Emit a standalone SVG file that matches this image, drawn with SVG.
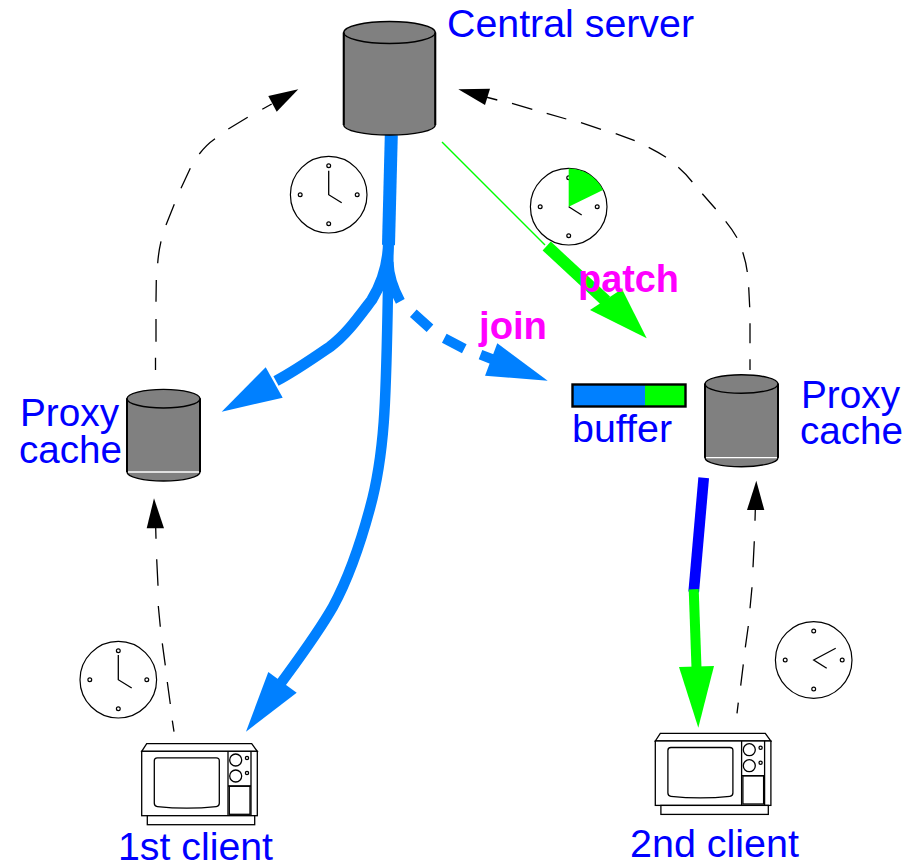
<svg xmlns="http://www.w3.org/2000/svg" width="917" height="864" viewBox="0 0 917 864">
<style>
text{font-family:"Liberation Sans",Arial,sans-serif;font-size:38px;fill:#0000ff}
.bold{font-weight:bold;fill:#ff00ff}
.body{fill:#808080;stroke:#000;stroke-width:1.4}
.wall{fill:none;stroke:#000;stroke-width:2}
.white{stroke:#fff;stroke-width:1.3;fill:none}
.thin{fill:none;stroke:#000;stroke-width:1.3}
.tv{fill:#fff;stroke:#000;stroke-width:1.3}
.dash{fill:none;stroke:#000;stroke-width:1.3}
.blue{fill:none;stroke:#0080ff}
.bluef{fill:#0080ff}
.green{fill:#00ff00}
</style>
<defs>
<g id="face">
<circle r="38.3" fill="#fff" stroke="#000" stroke-width="1.2"/>
<g fill="#fff" stroke="#000" stroke-width="1.2">
<circle cy="-29" r="1.9"/><circle cy="29" r="1.9"/><circle cx="-28.5" r="1.9"/><circle cx="28.5" r="1.9"/>
</g>
</g>
<g id="tvset">
<path class="tv" d="M0 0 L5 -7.6 H110 L115.6 0 Z"/>
<rect class="tv" x="0" y="0" width="115.6" height="64.4"/>
<rect class="tv" x="5.6" y="64.4" width="107.4" height="9"/>
<path class="tv" d="M15.6 6.5 Q12.6 6.5 12.6 9.5 V52 Q12.6 55 15.6 55.3 Q45 58.5 74.6 55.3 Q77.6 55 77.6 52 V9.5 Q77.6 6.5 74.6 6.5 Z"/>
<path class="tv" fill="none" d="M86.3 0 V64.4 M109.3 0 V64.4 M86.3 34.7 H109.3"/>
<rect class="tv" x="87.6" y="35" width="20.7" height="28" stroke-width="1.5"/>
<circle class="tv" cx="94" cy="8.7" r="6"/><circle class="tv" cx="94" cy="24.7" r="6"/>
<circle class="tv" cx="105.3" cy="6.7" r="1.6"/><circle class="tv" cx="105.3" cy="21.7" r="1.6"/>
</g>
</defs>

<g id="connectors">
<g id="dashed-client1-proxy">
<path class="dash" d="M155.7 528L156 538.7M156.7 559.3L158 585.7M158.3 606L160.3 626.7M162.3 643.3L165.3 665.3M167.3 682L170.3 704M172.3 720.7L174 731.7"/>
<polygon points="154,498.3 146.7,528.3 164,528.3"/>
</g>
<g id="dashed-proxy-central">
<path class="dash" d="M155.5 357.7V370M156 319V341.7M156 301.7L156.3 280M157.7 263.3Q158.5 252 161 241.3M166 225L174.3 204.3M181 188.3L190.3 168.3M199.3 154Q206 145 215 138.7M228.3 129L247.7 117.3M262.3 109.3L271.7 104"/>
<polygon points="298.3,89.3 268.3,96 276.7,111.7"/>
</g>
<g id="dashed-proxy2-central">
<path class="dash" d="M750 370V359.3M750 343.3V323.3M749.7 307.3L748.7 287.3M747.3 272Q746 262 742.7 252.3M737 237.7Q732 229 725.7 221.3M715.7 209L702.3 193.7M692.3 182Q686 174 678.3 167.3M666 157.3Q658 152 648.7 147.3M634.7 140.7L615.7 133.7M601 129.3L581 122.7M566.3 119L546.7 113.3M532.3 109.3L512 103.3M497.3 100L484 96.5"/>
<polygon points="458.3,89.3 490,88.7 485,105"/>
</g>
<g id="dashed-client2-proxy2">
<path class="dash" d="M755.3 510L755 520.7M754.3 541.3L753 567.3M752 587.3L750 608.3M748.3 626L745.3 647.3M743.3 664.3L740.7 685.7M738.3 702.7L737 713.3"/>
<polygon points="756.3,480.7 747,510 764.3,510"/>
</g>
<g id="stream-blue">
<path class="blue" stroke-width="13" d="M391.3 135L388.5 245"/>
<path class="blue" stroke-width="11" d="M388.5 240C388.5 262 384 280 371.7 300C358 318 346 335 330 346.7C315 357 295 371 276 381"/>
<polygon class="bluef" points="221.7,411.7 265.7,367.3 282.7,397.7"/>
<path class="blue" stroke-width="10.5" d="M388.5 240L388 290C386 390 386 450 370 508C360 545 347 581 333 606.7C318 633 300 657 281 683"/>
<polygon class="bluef" points="246,731.7 268.3,672 296.7,692.7"/>
</g>
<g id="stream-join">
<path class="blue" stroke-width="10" d="M388.5 262C389 275 393 288 400.3 301.3"/>
<path class="blue" stroke-width="10" d="M413.3 313.3L430 328.3M444.3 338.3L464.3 348.7M480.5 354.7L493 359.5"/>
<polygon class="bluef" points="547.7,380.7 497.3,343.3 485,375.7"/>
</g>
<g id="stream-patch">
<path stroke="#00ff00" stroke-width="1.4" fill="none" d="M442 142L545 245"/>
<path stroke="#00ff00" stroke-width="12" fill="none" d="M546.7 246L606 301"/>
<polygon class="green" points="646.7,338.3 590,310 622,289"/>
</g>
<g id="stream-client2">
<path stroke="#0000ff" stroke-width="10.7" fill="none" d="M703.7 477.7L693.7 592"/>
<path stroke="#00ff00" stroke-width="10" fill="none" d="M693.7 589.3L696.5 668"/>
<polygon class="green" points="698.3,727.7 679,667 714,666"/>
</g>
</g>

<g id="central-server">
<path class="body" d="M343.7 32.5V125A45.7 10 0 0 0 435.3 125V32.5Z"/>
<ellipse class="body" cx="389.5" cy="32.5" rx="45.8" ry="11"/>
<path class="wall" d="M343.7 32.5V125M435.3 32.5V125"/>
<text x="447" y="36.5" textLength="247" lengthAdjust="spacingAndGlyphs">Central server</text>
</g>

<g id="proxy-cache-left">
<path class="body" d="M127 398.7V472A36.5 9 0 0 0 200 472V398.7Z"/>
<ellipse class="body" cx="163.5" cy="398.7" rx="36.5" ry="9.3"/>
<path class="wall" d="M127 398.7V472M200 398.7V472"/>
<path class="white" d="M128 472H199"/>
<text x="20" y="426" textLength="99" lengthAdjust="spacingAndGlyphs">Proxy</text>
<text x="19" y="462.7" textLength="103" lengthAdjust="spacingAndGlyphs">cache</text>
</g>

<g id="proxy-cache-right">
<path class="body" d="M705 384V457.7A36.5 9 0 0 0 778 457.7V384Z"/>
<ellipse class="body" cx="741.5" cy="384" rx="36.5" ry="9.3"/>
<path class="wall" d="M705 384V457.7M778 384V457.7"/>
<path class="white" d="M706 457.7H777"/>
<text x="801" y="407.7" textLength="99" lengthAdjust="spacingAndGlyphs">Proxy</text>
<text x="800" y="444" textLength="103" lengthAdjust="spacingAndGlyphs">cache</text>
</g>

<g id="buffer">
<rect x="572.5" y="384.5" width="73" height="22" fill="#0080ff"/>
<rect x="645" y="384.5" width="41" height="22" fill="#00ff00"/>
<rect x="572.5" y="384.5" width="113" height="22" fill="none" stroke="#000" stroke-width="2.4"/>
<text x="572" y="442" textLength="100" lengthAdjust="spacingAndGlyphs">buffer</text>
</g>

<g id="clock-central">
<use href="#face" x="328.7" y="194.7"/>
<path class="thin" d="M328.7 170.7V194.7L341.7 202.7"/>
</g>
<g id="clock-patch">
<use href="#face" x="568.7" y="206.7"/>
<path class="green" d="M568.7 206.7V168.4A38.3 38.3 0 0 1 603 190Z"/>
<path class="thin" d="M568.7 206.7L581.7 215"/>
</g>
<g id="clock-client1">
<use href="#face" x="118.3" y="679.7"/>
<path class="thin" d="M118.3 655V679.7L131.7 688"/>
</g>
<g id="clock-client2">
<use href="#face" x="813.7" y="660"/>
<path class="thin" d="M835.7 648.3L813.7 660L826.7 668.3"/>
</g>

<g id="client-1">
<use href="#tvset" x="141.7" y="751.3"/>
<text x="118" y="860" textLength="155" lengthAdjust="spacingAndGlyphs">1st client</text>
</g>
<g id="client-2">
<use href="#tvset" x="655.3" y="741"/>
<text x="630" y="857" textLength="169" lengthAdjust="spacingAndGlyphs">2nd client</text>
</g>

<text class="bold" x="578" y="291.7" textLength="101" lengthAdjust="spacingAndGlyphs">patch</text>
<text class="bold" x="479" y="339" textLength="68" lengthAdjust="spacingAndGlyphs">join</text>
</svg>
